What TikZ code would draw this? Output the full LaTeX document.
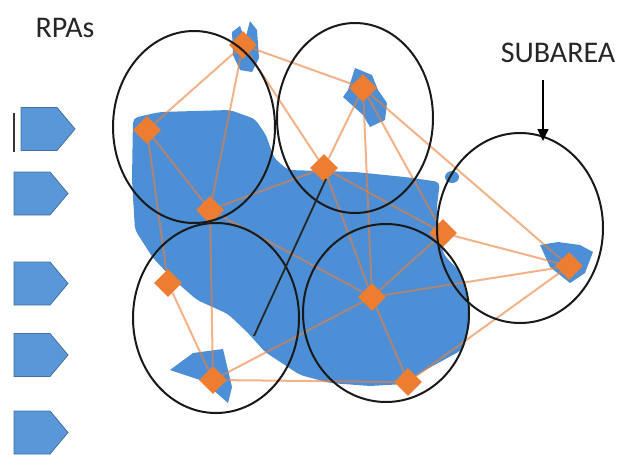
\documentclass[tikz,border=0pt]{standalone}
\usepackage{fontspec}
\setmainfont{Carlito}
\usetikzlibrary{shapes.geometric,arrows.meta}
\definecolor{areablue}{HTML}{4C8FD6}
\definecolor{rpablue}{HTML}{5A97D8}
\definecolor{rpaedge}{HTML}{41719C}
\definecolor{uavorange}{HTML}{ED7D31}
\definecolor{linkorange}{HTML}{EB7F38}

\begin{document}
\begin{tikzpicture}[x=1pt, y=-1pt,
    uav/.style={diamond, fill=uavorange, inner sep=0pt, minimum width=28pt, minimum height=28pt},
    link/.style={linkorange, line width=2pt, opacity=0.6},
    zone/.style={black!90, line width=2pt},
    headtxt/.style={font=\fontsize{30}{36}\selectfont, text=black!85, anchor=base}]
    \useasboundingbox (0,0) rectangle (621,455);
    % 1. 任务区域 (大块蓝色)
    \fill[areablue, rounded corners=5pt] (133,118) -- (160,112) -- (230,110) -- (255,119)
        -- (266,135) -- (274,158) -- (288,170) -- (355,172) -- (405,177) -- (440,182)
        -- (437,205) -- (437,230) -- (444,255) -- (460,272) -- (468,300) -- (470,325)
        -- (462,350) -- (440,362) -- (420,373) -- (405,384) -- (370,386) -- (330,383)
        -- (300,375) -- (265,352) -- (247,332) -- (228,314) -- (197,300) -- (173,279)
        -- (153,258) -- (135,230) -- (132,180) -- cycle;
    \fill[areablue] (452,177) ellipse [x radius=7pt, y radius=6pt];
    % 小块区域
    \fill[areablue] (232,32) -- (240,26) -- (245,40) -- (250,21) -- (257,30) -- (259,58)
        -- (252,72) -- (240,70) -- (233,55) -- cycle;
    \fill[areablue] (355,68) -- (372,75) -- (378,90) -- (387,103) -- (385,120) -- (370,127)
        -- (363,115) -- (343,97) -- (348,90) -- cycle;
    \fill[areablue] (540,245) -- (558,242) -- (580,245) -- (593,252) -- (585,273)
        -- (570,283) -- (550,267) -- cycle;
    \fill[areablue] (170,370) -- (193,353) -- (223,349) -- (232,387) -- (228,403)
        -- (203,381) -- cycle;
    % 2. 左侧 RPA 图标
    \foreach \y/\dx in {129/7, 193.5/0, 283.5/0, 355/0, 432.5/0} {
        \filldraw[fill=rpablue, draw=rpaedge, line width=0.8pt]
            (14+\dx,\y-21.5) -- (50+\dx,\y-21.5) -- (68+\dx,\y) -- (50+\dx,\y+21.5)
            -- (14+\dx,\y+21.5) -- cycle;
    }
    \draw[black!80, line width=1.8pt] (14,113) -- (14,152);
    % 3. 无人机节点
    \node[uav] (p1) at (243,45) {};
    \node[uav] (p2) at (147,130) {};
    \node[uav] (p3) at (210,210) {};
    \node[uav] (p4) at (363,88) {};
    \node[uav] (p5) at (324,168) {};
    \node[uav] (p6) at (168,283) {};
    \node[uav] (p7) at (213,380) {};
    \node[uav] (p8) at (372,297) {};
    \node[uav] (p9) at (443,233) {};
    \node[uav] (p10) at (569,266) {};
    \node[uav] (p11) at (408,382) {};
    % 4. 节点之间的链路
    \foreach \a/\b in {1/2, 1/3, 1/4, 1/5, 2/3, 2/6, 3/5, 3/7, 3/8, 4/5, 4/8, 4/9, 4/10,
        5/8, 5/9, 6/7, 7/8, 7/11, 8/9, 8/10, 8/11, 9/10, 10/11}
        \draw[link] (p\a) -- (p\b);
    % 5. 子区域 (圆)
    \draw[zone] (194,127) ellipse [x radius=81pt, y radius=96pt];
    \draw[zone] (355,118) ellipse [x radius=78pt, y radius=95pt];
    \draw[zone] (520,228) ellipse [x radius=83pt, y radius=95pt];
    \draw[zone] (216,318) ellipse [x radius=83pt, y radius=95pt];
    \draw[zone] (386,313) ellipse [x radius=83pt, y radius=89pt];
    % 分界线
    \coordinate (cutlo) at (254,336);
    \coordinate (cuthi) at (326,179);
    \draw[black!85, line width=1.8pt] (cutlo) -- (cuthi);
    % 6. 文字标注
    \node[headtxt] (rpas) at (65,37) {RPAs};
    \node[headtxt] (sub) at (558,62) {SUBAREA};
    \coordinate (arrtop) at (543,80);
    \coordinate (arrtip) at (543,141);
    \draw[black, line width=1.5pt, -{Triangle[length=12pt, width=11pt]}] (arrtop) -- (arrtip);
\end{tikzpicture}
\end{document}
